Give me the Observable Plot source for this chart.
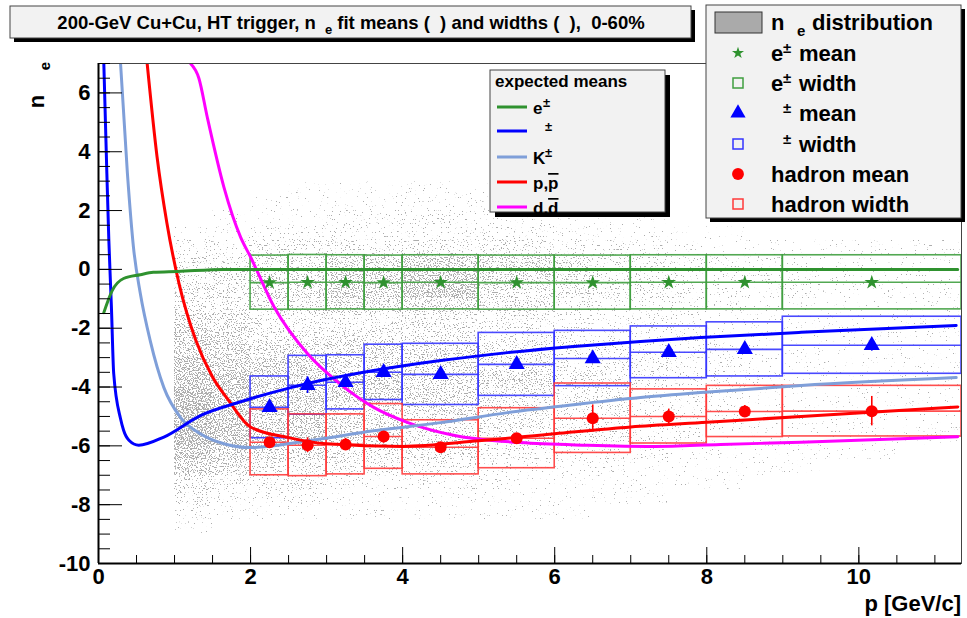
<!DOCTYPE html>
<html><head><meta charset="utf-8">
<script src="https://cdn.jsdelivr.net/npm/d3@7"></script>
<script src="https://cdn.jsdelivr.net/npm/@observablehq/plot@0.6"></script>
<style>
body{margin:0;background:#fff;}
#wrap{position:relative;width:967px;height:618px;overflow:hidden;background:#fff}
#wrap svg{position:absolute;left:0;top:0}
</style></head><body><div id="wrap"></div>
<script>
// ---------------- data ----------------
const binLo = [2.0, 2.5, 3.0, 3.5, 4.0, 5.0, 6.0, 7.0, 8.0, 9.0];
const binHi = [2.5, 3.0, 3.5, 4.0, 5.0, 6.0, 7.0, 8.0, 9.0, 11.35];
const pMid  = [2.25, 2.75, 3.25, 3.75, 4.5, 5.5, 6.5, 7.5, 8.5, 10.17];

const eMean  = [-0.45, -0.44, -0.44, -0.45, -0.44, -0.45, -0.45, -0.44, -0.44, -0.44];
const eWidth = [0.92, 0.93, 0.92, 0.92, 0.92, 0.92, 0.92, 0.92, 0.92, 0.92];
const eErr   = [0.05, 0.05, 0.05, 0.05, 0.04, 0.05, 0.05, 0.06, 0.07, 0.08];

const piMean  = [-4.69, -3.94, -3.84, -3.50, -3.57, -3.23, -3.03, -2.82, -2.72, -2.58];
const piWidth = [1.05, 1.00, 0.92, 0.94, 1.04, 1.07, 0.94, 0.88, 0.92, 0.97];
const piErr   = [0.12, 0.28, 0.15, 0.15, 0.10, 0.10, 0.12, 0.12, 0.15, 0.20];

const hMean  = [-5.88, -5.98, -5.95, -5.68, -6.05, -5.74, -5.06, -5.00, -4.83, -4.82];
const hWidth = [1.12, 1.05, 1.02, 1.10, 0.92, 1.02, 1.18, 0.92, 0.87, 0.86];
const hErr   = [0.15, 0.25, 0.20, 0.23, 0.12, 0.15, 0.45, 0.25, 0.20, 0.50];

// expected means (curves)
const curveE  = [[0.07,-1.47],[0.18,-0.72],[0.33,-0.31],[0.55,-0.18],[0.72,-0.10],[1.04,-0.07],[1.65,0.0],[3.0,0.0],[6.0,0.0],[9.0,0.0],[11.3,0.0]];
const curvePi = [[0.07,7.0],[0.11,3.26],[0.136,0.99],[0.17,-1.29],[0.20,-3.54],[0.29,-5.08],[0.33,-5.47],[0.40,-5.81],[0.53,-5.98],[0.86,-5.70],[1.34,-4.97],[1.87,-4.50],[2.53,-4.02],[2.75,-3.88],[3.62,-3.44],[4.5,-3.10],[5.38,-2.83],[6.25,-2.62],[7.13,-2.45],[7.92,-2.32],[9.24,-2.14],[11.28,-1.91]];
const curveK  = [[0.29,7.0],[0.38,3.27],[0.46,0.75],[0.55,-0.82],[0.68,-2.42],[0.86,-4.02],[1.08,-5.04],[1.34,-5.59],[1.65,-5.93],[2.0,-6.06],[2.75,-5.83],[3.62,-5.49],[4.5,-5.21],[5.38,-4.87],[6.25,-4.60],[7.13,-4.36],[7.92,-4.19],[9.24,-3.95],[11.28,-3.68]];
const curveP  = [[0.64,7.0],[0.77,3.83],[0.90,1.57],[1.06,-0.49],[1.28,-2.41],[1.50,-3.66],[1.71,-4.45],[2.0,-5.36],[2.5,-5.72],[3.0,-5.93],[4.0,-6.02],[5.0,-5.83],[6.0,-5.59],[7.0,-5.36],[8.0,-5.20],[9.24,-5.0],[11.3,-4.68]];
const curveD  = [[1.21,7.0],[1.32,6.5],[1.43,5.18],[1.65,2.79],[1.87,1.09],[2.0,0.42],[2.31,-1.28],[2.75,-2.87],[3.18,-3.90],[3.62,-4.69],[4.06,-5.20],[4.67,-5.64],[5.55,-5.89],[6.43,-5.98],[7.31,-6.02],[8.18,-5.95],[9.24,-5.88],[11.3,-5.69]];

// n_e distribution: density level (0-9) per cell, columns start at densX, rows start (top) at densYTop
const densX = [1.0,1.5,2.0,2.5,3.0,3.5,4.0,4.5,5.0,5.5,6.0,6.5,7.0,7.5,8.0,8.5,9.0,9.5,10.0,10.5,11.0];
const densYTop = [3.0,2.5,2.0,1.5,1.0,0.5,0.0,-0.5,-1.0,-1.5,-2.0,-2.5,-3.0,-3.5,-4.0,-4.5,-5.0,-5.5,-6.0,-6.5,-7.0,-7.5,-8.0,-8.5];
const densRows = [
  "00 01 11 11 11 00 00 00 00 00 0",
  "00 11 11 11 11 10 00 00 00 00 0",
  "01 11 22 22 11 11 10 00 00 00 0",
  "11 22 22 22 22 21 11 10 00 00 0",
  "22 33 33 33 33 22 21 11 11 11 1",
  "33 44 55 66 55 43 32 22 11 11 1",
  "34 55 66 77 55 43 32 22 21 11 1",
  "44 55 66 77 54 43 32 22 21 11 1",
  "44 44 55 55 44 32 22 21 11 11 1",
  "55 33 33 44 33 22 22 11 11 11 1",
  "65 44 44 44 33 32 22 11 11 11 1",
  "66 55 55 55 44 33 22 21 11 11 1",
  "76 66 55 55 44 33 32 21 11 11 1",
  "77 66 66 55 55 43 32 22 11 11 1",
  "87 66 66 55 44 33 22 21 11 11 1",
  "87 66 55 55 44 33 22 21 11 11 1",
  "87 66 55 44 44 33 22 21 11 11 1",
  "87 66 55 44 33 33 22 11 11 11 1",
  "76 55 44 44 33 22 21 11 11 10 0",
  "65 44 33 33 22 22 11 11 10 00 0",
  "43 33 22 22 21 11 11 10 00 00 0",
  "32 22 11 11 11 11 10 00 00 00 0",
  "21 11 11 11 11 10 00 00 00 00 0",
  "10 00 00 00 00 00 00 00 00 00 0"
];

const xMajor = [0, 2, 4, 6, 8, 10];
const yMajor = [-10, -8, -6, -4, -2, 0, 2, 4, 6];
const xMax = 11.35;

// ---------------- build tables ----------------
const FONT = "'Liberation Sans', Arial, Helvetica, sans-serif";
const W = 967, H = 618;
const NB = "\u00a0";

const dens = [];
densRows.forEach((row, i) => {
  row.replace(/ /g, "").split("").forEach((c, j) => {
    const lv = +c;
    if (lv > 0) dens.push({x1: densX[j], x2: Math.min(densX[j] + 0.5, xMax), y1: densYTop[i], y2: densYTop[i] - 0.5, level: lv});
  });
});
const mk = (mean, width, err) => pMid.map((x, i) => ({x, lo: binLo[i], hi: binHi[i], m: mean[i], w: width[i], e: err[i]}));
const eP = mk(eMean, eWidth, eErr), piP = mk(piMean, piWidth, piErr), hP = mk(hMean, hWidth, hErr);

const cE = "#2f922f", cEbox = "#3f9f3f";
const cPi = "#0000ff", cPibox = "#3535ff";
const cH = "#ff0000", cHbox = "#ff3a3a";
const cK = "#7f9fd9", cD = "#ff00ff";

function boxMarks(pts, stroke, fill) {
  return [
    Plot.rect(pts, {x1: "lo", x2: "hi", y1: d => d.m - d.w, y2: d => d.m + d.w, stroke, strokeWidth: 1.6, fill: "none", strokeOpacity: 0.9}),
    Plot.ruleY(pts, {x1: "lo", x2: "hi", y: "m", stroke, strokeWidth: 1.6, strokeOpacity: 0.9}),
    Plot.ruleX(pts, {x: "x", y1: d => d.m - d.e, y2: d => d.m + d.e, stroke: fill, strokeWidth: 1.6})
  ];
}
function meanMarks(pts, fill, symbol, r) {
  return Plot.dot(pts, {x: "x", y: "m", symbol, r, fill, stroke: "none"});
}

const chart = Plot.plot({
  width: W, height: H,
  marginLeft: 98, marginRight: 6, marginTop: 63, marginBottom: 55,
  x: {domain: [0, xMax], label: null},
  y: {domain: [-10, 7], label: null},
  opacity: {type: "identity"},
  style: {fontFamily: FONT, background: "white", color: "black"},
  marks: [
    Plot.rect(dens, {x1: "x1", x2: "x2", y1: "y1", y2: "y2", fill: "black", fillOpacity: d => 0.27 + 0.031 * d.level, inset: 0, shapeRendering: "crispEdges"}),
    ...boxMarks(eP, cEbox, cE),
    ...boxMarks(piP, cPibox, cPi),
    ...boxMarks(hP, cHbox, cH),
    Plot.line(curveD, {stroke: cD, strokeWidth: 3, curve: "monotone-x", clip: true}),
    Plot.line(curveK, {stroke: cK, strokeWidth: 3, curve: "monotone-x", clip: true}),
    Plot.line(curveP, {stroke: cH, strokeWidth: 3, curve: "monotone-x", clip: true}),
    Plot.line(curvePi, {stroke: cPi, strokeWidth: 3, curve: "monotone-x", clip: true}),
    Plot.line(curveE, {stroke: cE, strokeWidth: 3, curve: "monotone-x", clip: true}),
    meanMarks(eP, cE, "star", 4.6),
    meanMarks(piP, cPi, "triangle", 6),
    meanMarks(hP, cH, "circle", 6),
    Plot.frame({stroke: "#444", strokeWidth: 1}),
    Plot.ruleX([0], {stroke: "black", strokeWidth: 2}),
    Plot.ruleY([-10], {stroke: "black", strokeWidth: 2}),
    Plot.axisX(d3.range(0, 11.3, 0.5), {tickSize: -8, tickFormat: () => "", stroke: "black", label: null}),
    Plot.axisX(xMajor, {tickSize: -16, tickFormat: () => "", stroke: "black", label: null}),
    Plot.axisX(xMajor, {tickSize: 0, tickPadding: 5, tickFormat: d => String(d), fontSize: 22, fontWeight: "bold", label: null}),
    Plot.axisY(d3.range(-10, 7.01, 0.5), {tickSize: -12, tickFormat: () => "", stroke: "black", label: null}),
    Plot.axisY(yMajor, {tickSize: -24, tickFormat: () => "", stroke: "black", label: null}),
    Plot.axisY(yMajor, {tickSize: 0, tickPadding: 8, tickFormat: d => String(d), fontSize: 22, fontWeight: "bold", label: null})
  ]
});

// stipple filter for the distribution
const svg = d3.select(chart);
const defs = svg.insert("defs", ":first-child");
const f = defs.append("filter").attr("id", "stip").attr("filterUnits", "userSpaceOnUse")
  .attr("x", 0).attr("y", 0).attr("width", W).attr("height", H).attr("color-interpolation-filters", "sRGB");
f.append("feTurbulence").attr("type", "fractalNoise").attr("baseFrequency", 0.77).attr("numOctaves", 1).attr("seed", 7).attr("result", "noise");
f.append("feColorMatrix").attr("in", "noise").attr("type", "matrix").attr("values", "0 0 0 0 0  0 0 0 0 0  0 0 0 0 0  1 0 0 0 0").attr("result", "n");
f.append("feComposite").attr("in", "SourceAlpha").attr("in2", "n").attr("operator", "arithmetic")
  .attr("k1", 0).attr("k2", 25).attr("k3", -25).attr("k4", 0).attr("result", "mask");
f.append("feFlood").attr("flood-color", "#adadad").attr("result", "col");
f.append("feComposite").attr("in", "col").attr("in2", "mask").attr("operator", "in");
const densG = chart.querySelectorAll('g[aria-label="rect"]')[0];
if (densG) densG.setAttribute("filter", "url(#stip)");

const wrap = document.getElementById("wrap");
wrap.appendChild(chart);

// ---------------- overlay: title, legends, axis titles ----------------
const ov = d3.create("svg").attr("width", W).attr("height", H)
  .attr("font-family", FONT).attr("font-weight", "bold");

// title box
ov.append("rect").attr("x", 14).attr("y", 10).attr("width", 681).attr("height", 32).attr("fill", "#000");
ov.append("rect").attr("x", 10).attr("y", 6).attr("width", 681).attr("height", 32).attr("fill", "#f2f2f2").attr("stroke", "#444");
{
  const t = ov.append("text").attr("x", 351).attr("y", 29).attr("text-anchor", "middle").attr("font-size", 18.5);
  t.append("tspan").text("200-GeV Cu+Cu, HT trigger, n");
  t.append("tspan").attr("dx", 9).attr("dy", 5).attr("font-size", 13).text("e");
  t.append("tspan").attr("dy", -5).text(` fit means (${NB}${NB}) and widths (${NB}${NB}),${NB}${NB}0-60%`);
}

// right legend
ov.append("rect").attr("x", 710).attr("y", 9).attr("width", 255).attr("height", 213).attr("fill", "#000");
ov.append("rect").attr("x", 706).attr("y", 5).attr("width", 255).attr("height", 213).attr("fill", "#f2f2f2").attr("stroke", "#444");
ov.append("rect").attr("x", 715).attr("y", 12).attr("width", 47).attr("height", 21).attr("fill", "#aaaaaa").attr("stroke", "#333");
{
  const t = ov.append("text").attr("x", 771).attr("y", 30).attr("font-size", 22);
  t.append("tspan").text("n");
  t.append("tspan").attr("x", 797).attr("dy", 6).attr("font-size", 15).text("e");
  t.append("tspan").attr("x", 812).attr("dy", -6).text("distribution");
}
const legRows = [
  {y: 53, pre: "e", label: "mean", sym: "star", color: cE},
  {y: 83, pre: "e", label: "width", sym: "box", color: cEbox},
  {y: 113, pre: "", label: "mean", sym: "triangle", color: cPi},
  {y: 144, pre: "", label: "width", sym: "box", color: cPibox},
  {y: 174, pre: null, label: "hadron mean", sym: "circle", color: cH},
  {y: 204, pre: null, label: "hadron width", sym: "box", color: cHbox}
];
legRows.forEach(r => {
  if (r.sym === "box") {
    ov.append("rect").attr("x", 733).attr("y", r.y - 5).attr("width", 10).attr("height", 10).attr("fill", "none").attr("stroke", r.color).attr("stroke-width", 1.5);
  } else {
    const s = r.sym === "star" ? d3.symbolStar : r.sym === "triangle" ? d3.symbolTriangle : d3.symbolCircle;
    const size = r.sym === "star" ? 45 : r.sym === "triangle" ? 100 : 110;
    ov.append("path").attr("d", d3.symbol(s, size)()).attr("transform", `translate(738,${r.y})`).attr("fill", r.color);
  }
  const t = ov.append("text").attr("y", r.y + 8).attr("font-size", 22);
  if (r.pre === null) {
    t.attr("x", 771).text(r.label);
  } else {
    t.append("tspan").attr("x", 771).text(r.pre);
    t.append("tspan").attr("x", 783).attr("dy", -8).attr("font-size", 15).text("±");
    t.append("tspan").attr("x", 799).attr("dy", 8).text(r.label);
  }
});

// inner legend (expected means)
ov.append("rect").attr("x", 495).attr("y", 75).attr("width", 175).attr("height", 142).attr("fill", "#000");
ov.append("rect").attr("x", 490).attr("y", 70).attr("width", 175).attr("height", 142).attr("fill", "#f2f2f2").attr("stroke", "#444");
ov.append("text").attr("x", 495).attr("y", 87).attr("font-size", 17).text("expected means");
const innerRows = [
  {y: 107, color: cE, pre: "e", sup: "±"},
  {y: 131, color: cPi, pre: "", sup: "±"},
  {y: 157, color: cK, pre: "K", sup: "±"},
  {y: 182, color: cH, pre: "p,", bar: "p"},
  {y: 207, color: cD, pre: "d,", bar: "d"}
];
innerRows.forEach(r => {
  ov.append("line").attr("x1", 497).attr("x2", 527).attr("y1", r.y).attr("y2", r.y).attr("stroke", r.color).attr("stroke-width", 3);
  const t = ov.append("text").attr("x", 533).attr("y", r.y + 7).attr("font-size", 17);
  t.append("tspan").text(r.pre);
  if (r.sup) t.append("tspan").attr("x", r.pre === "e" ? 543 : 545).attr("dy", -7).attr("font-size", 13).text(r.sup);
  if (r.bar) t.append("tspan").style("text-decoration", "overline").text(r.bar);
});

// axis titles
{
  const t = ov.append("text").attr("transform", "translate(44,62) rotate(-90)").attr("text-anchor", "end").attr("font-size", 22);
  t.append("tspan").text(`n${NB}${NB}${NB}${NB}`);
  t.append("tspan").attr("dy", 6).attr("font-size", 15).text("e");
}
ov.append("text").attr("x", 961).attr("y", 611).attr("text-anchor", "end").attr("font-size", 22).text("p [GeV/c]");

wrap.appendChild(ov.node());
</script>
</body></html>
